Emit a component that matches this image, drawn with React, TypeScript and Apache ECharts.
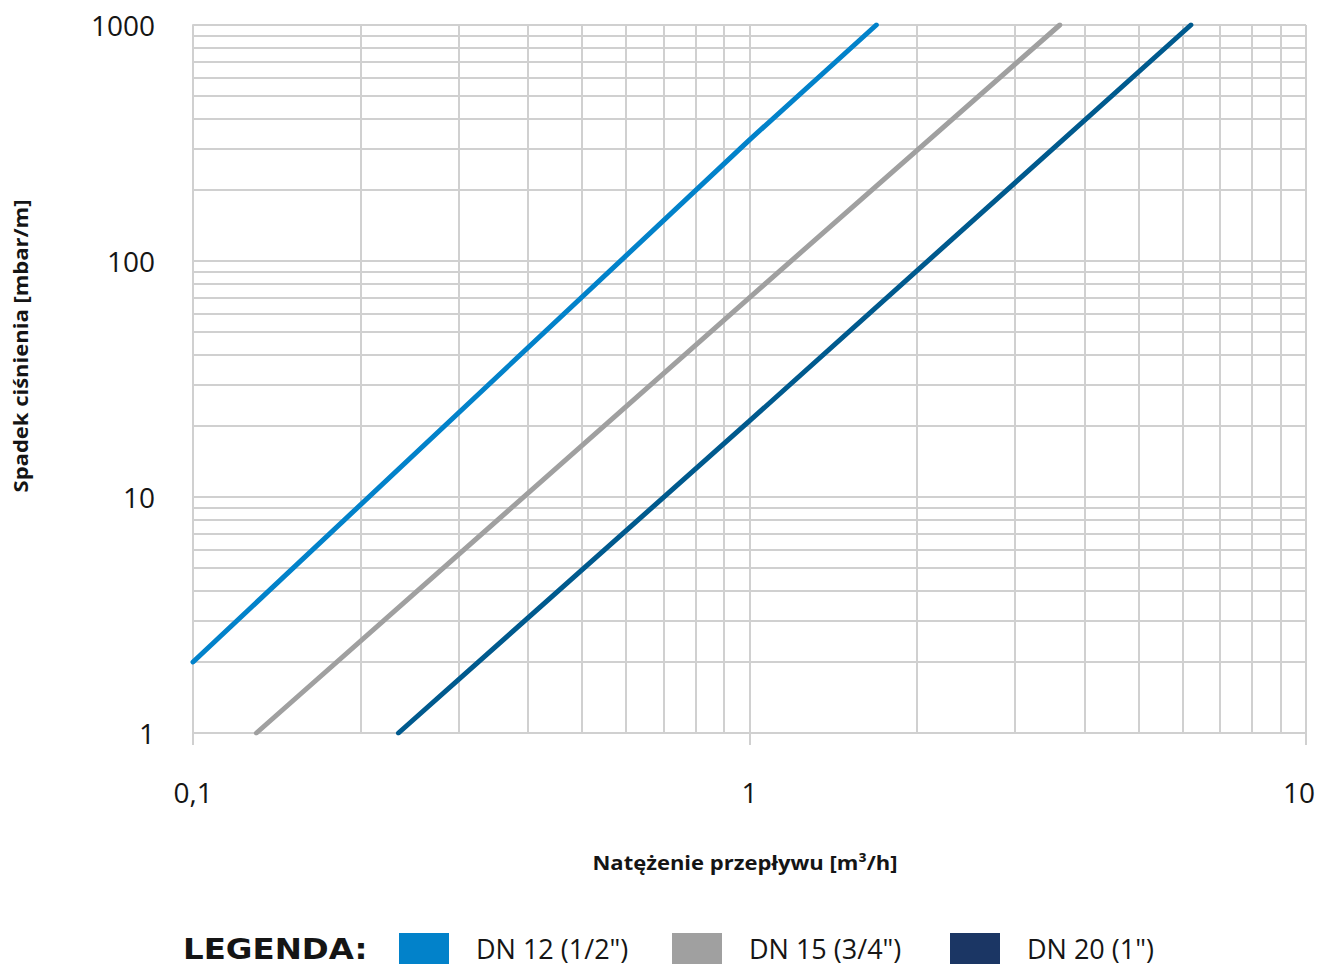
import React, { useEffect, useRef } from "react";
import * as echarts from "echarts";

// Data
const seriesNames = ['DN 12 (1/2")', 'DN 15 (3/4")', 'DN 20 (1")'];
const dn12Flow = [0.1, 1, 1.69];
const dn12Drop = [2.0, 326, 1000];
const dn15Flow = [0.13, 1, 3.61];
const dn15Drop = [1, 70, 1000];
const dn20Flow = [0.234, 1, 6.21];
const dn20Drop = [1, 21, 1000];

const lineColors = ["#0282CA", "#A0A0A0", "#005A8E"];
const legendColors = ["#0282CA", "#A0A0A0", "#1B3664"];

// Minor log grid positions
const xMinorTicks = [0.2, 0.3, 0.4, 0.5, 0.6, 0.7, 0.8, 0.9, 2, 3, 4, 5, 6, 7, 8, 9];
const yMinorTicks = [2, 3, 4, 5, 6, 7, 8, 9, 20, 30, 40, 50, 60, 70, 80, 90, 200, 300, 400, 500, 600, 700, 800, 900];

const xAxisName = "Natężenie przepływu [m³/h]";
const yAxisName = "Spadek ciśnienia [mbar/m]";
const legendTitle = "LEGENDA:";

const FONT = "'Open Sans', 'Noto Sans', sans-serif";
const GRID_COLOR = "#d0d0d0";
const TEXT_COLOR = "#151515";

function zip(a: number[], b: number[]) {
  return a.map((v, i) => [v, b[i]]);
}

export default function App() {
  const ref = useRef<HTMLDivElement>(null);
  useEffect(() => {
    if (!ref.current) return;
    const chart = echarts.init(ref.current, undefined, { renderer: "svg" });
    const datasets = [zip(dn12Flow, dn12Drop), zip(dn15Flow, dn15Drop), zip(dn20Flow, dn20Drop)];
    const legendLefts = [399, 672, 950];
    const option: any = {
      animation: false,
      backgroundColor: "#ffffff",
      textStyle: { fontFamily: FONT },
      grid: { left: 193, right: 14, top: 25, bottom: 234, containLabel: false, outerBoundsMode: "none" },
      xAxis: {
        type: "log",
        logBase: 10,
        min: 0.1,
        max: 10,
        axisLine: { show: true, lineStyle: { color: GRID_COLOR, width: 2 } },
        axisTick: { show: true, length: 12, lineStyle: { color: GRID_COLOR, width: 2 } },
        axisLabel: {
          fontSize: 28,
          color: TEXT_COLOR,
          margin: 45,
          fontFamily: FONT,
          formatter: (v: number) => (v >= 10 ? "{r|" + String(v) + "}" : String(v).replace(".", ",")),
          rich: {
            r: { fontSize: 28, color: TEXT_COLOR, fontFamily: FONT, padding: [0, 14, 0, 0] },
          },
        },
        splitLine: { show: true, lineStyle: { color: GRID_COLOR, width: 2 } },
      },
      yAxis: {
        type: "log",
        logBase: 10,
        min: 1,
        max: 1000,
        axisLine: { show: true, lineStyle: { color: GRID_COLOR, width: 2 } },
        axisTick: { show: false },
        axisLabel: {
          fontSize: 28,
          color: TEXT_COLOR,
          margin: 38,
          fontFamily: FONT,
          formatter: (v: number) => String(v),
        },
        splitLine: { show: true, lineStyle: { color: GRID_COLOR, width: 2 } },
      },
      legend: seriesNames.map((n, i) => ({
        data: [{ name: n, itemStyle: { color: legendColors[i] } }],
        left: legendLefts[i],
        top: 933,
        icon: "rect",
        itemWidth: 50,
        itemHeight: 31,
        selectedMode: false,
        padding: 0,
        textStyle: { fontSize: 27, color: TEXT_COLOR, fontFamily: FONT, padding: [0, 0, 0, 22], lineHeight: 28 },
      })),
      graphic: [
        {
          type: "text",
          x: 20,
          y: 346,
          rotation: Math.PI / 2,
          scaleX: 1.1,
          style: {
            text: yAxisName,
            fontSize: 20,
            fontWeight: "bold",
            fontFamily: FONT,
            fill: TEXT_COLOR,
            textAlign: "center",
            textVerticalAlign: "middle",
          },
        },
        {
          type: "text",
          x: 745,
          y: 862,
          scaleX: 1.1,
          style: {
            text: xAxisName,
            fontSize: 20,
            fontWeight: "bold",
            fontFamily: FONT,
            fill: TEXT_COLOR,
            textAlign: "center",
            textVerticalAlign: "middle",
          },
        },
        {
          type: "text",
          x: 183,
          y: 949,
          scaleX: 1.12,
          style: {
            text: legendTitle,
            fontSize: 29,
            fontWeight: "bold",
            fontFamily: "'DejaVu Sans', sans-serif",
            fill: TEXT_COLOR,
            textAlign: "left",
            textVerticalAlign: "middle",
          },
        },
      ],
      series: [
        {
          name: "grid",
          type: "line",
          data: [],
          silent: true,
          showSymbol: false,
          lineStyle: { opacity: 0 },
          markLine: {
            silent: true,
            z: 1,
            symbol: ["none", "none"],
            label: { show: false },
            emphasis: { disabled: true },
            lineStyle: { color: GRID_COLOR, width: 2, type: "solid" },
            data: [
              ...xMinorTicks.map((v) => ({ xAxis: v })),
              ...yMinorTicks.map((v) => ({ yAxis: v })),
            ],
          },
        },
        ...seriesNames.map((n, i) => ({
          name: n,
          type: "line",
          z: 3,
          data: datasets[i],
          showSymbol: false,
          symbol: "none",
          silent: true,
          lineStyle: { width: 5, color: lineColors[i], cap: "round" },
          itemStyle: { color: legendColors[i] },
          emphasis: { disabled: true },
        })),
      ],
    };
    chart.setOption(option);
    return () => chart.dispose();
  }, []);
  return (
    <div
      ref={ref}
      style={{ position: "absolute", left: 0, top: 0, width: 1320, height: 967, background: "#fff" }}
    />
  );
}
